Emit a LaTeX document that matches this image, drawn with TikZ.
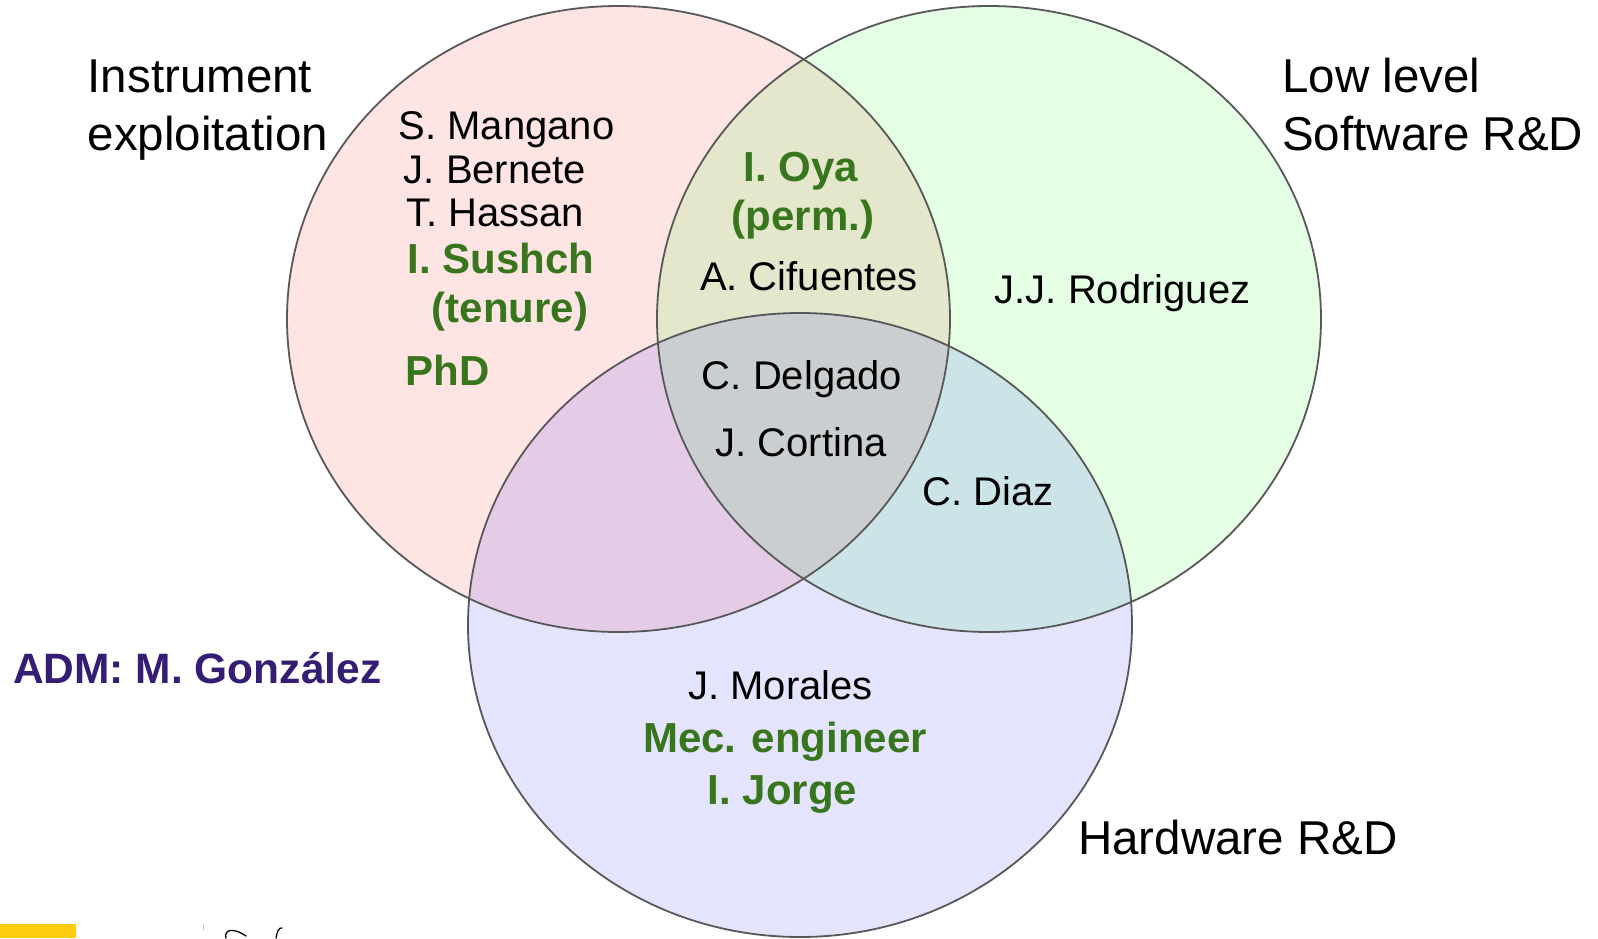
\documentclass[tikz,border=0pt]{standalone}
\usepackage{fontspec}
\setmainfont{Liberation Sans}
\definecolor{ringline}{RGB}{88,88,88}
\definecolor{staffgreen}{HTML}{38761D}
\definecolor{admpurple}{HTML}{351C75}
\definecolor{baryellow}{RGB}{255,204,17}
\begin{document}
\begin{tikzpicture}[x=1pt,y=-1pt,
  ring/.style={draw=ringline, line width=1.8pt},
  tint/.style={fill opacity=0.105},
  person/.style={inner sep=0pt, anchor=base, font=\fontsize{40}{40}\selectfont},
  lead/.style={inner sep=0pt, anchor=base, text=staffgreen, font=\fontsize{42}{42}\selectfont\bfseries},
  area/.style={inner sep=0pt, anchor=base west, font=\fontsize{47.5}{47.5}\selectfont},
  admin/.style={inner sep=0pt, anchor=base west, text=admpurple, font=\fontsize{42.5}{42.5}\selectfont\bfseries}]
\useasboundingbox (0,0) rectangle (1598,938);

% translucent fills of the three areas
\fill[red, tint]   (618.5,319) ellipse [x radius=331.5, y radius=313];
\fill[green, tint] (989,319)   ellipse [x radius=332,   y radius=313];
\fill[blue, tint]  (800,625)   ellipse [x radius=332,   y radius=312];
% outlines on top
\draw[ring] (618.5,319) ellipse [x radius=331.5, y radius=313];
\draw[ring] (989,319)   ellipse [x radius=332,   y radius=313];
\draw[ring] (800,625)   ellipse [x radius=332,   y radius=312];

% area titles
\node[area] (ie1) at (87.5,92)  {Instrument};
\node[area] (ie2) at (87.5,150) {exploitation};
\node[area] (ls1) at (1282,92)  {Low level};
\node[area] (ls2) at (1282,150) {Software R\&D};
\node[area] (hw)  at (1078,854) {Hardware R\&D};

% instrument exploitation only
\node[person] (mangano) at (506.5,139.5) {S. Mangano};
\node[person] (bernete) at (495,183.5)   {J. Bernete};
\node[person] (hassan)  at (495,226.5)   {T. Hassan};
\node[lead]   (sushch)  at (501,273)     {I. Sushch};
\node[lead]   (tenure)  at (510,322)     {(tenure)};
\node[lead, anchor=base west] (phd) at (405.5,385) {PhD};

% instrument exploitation + software
\node[lead]   (oya)     at (801,181.5)   {I. Oya};
\node[lead]   (perm)    at (803,230)     {(perm.)};
\node[person] (cifu)    at (809,290.5)   {A. Cifuentes};

% software only
\node[person] (rodri)   at (1122.5,303.5) {J.J. Rodriguez};

% all three
\node[person] (delgado) at (802,389)     {C. Delgado};
\node[person] (cortina) at (801,456.5)   {J. Cortina};

% software + hardware
\node[person] (diaz)    at (988,505.5)   {C. Diaz};

% hardware only
\node[person] (morales) at (780.5,699)   {J. Morales};
\node[lead]   (mec)     at (785,752)     {Mec. engineer};
\node[lead]   (jorge)   at (782.5,804)   {I. Jorge};

% administration
\node[admin] (adm) at (13,683) {ADM: M. González};

% footer fragments
\fill[baryellow] (0,924) rectangle (76,938);
\draw[gray!45, line width=0.8pt] (203,924) -- (203,930);
\draw[black, line width=1.3pt, line cap=round]
  (226,938) .. controls (224,931) and (231,926) .. (246,936);
\draw[black, line width=1.3pt, line cap=round]
  (276,938) .. controls (277,932) and (279,927) .. (282,928);
\end{tikzpicture}
\end{document}
